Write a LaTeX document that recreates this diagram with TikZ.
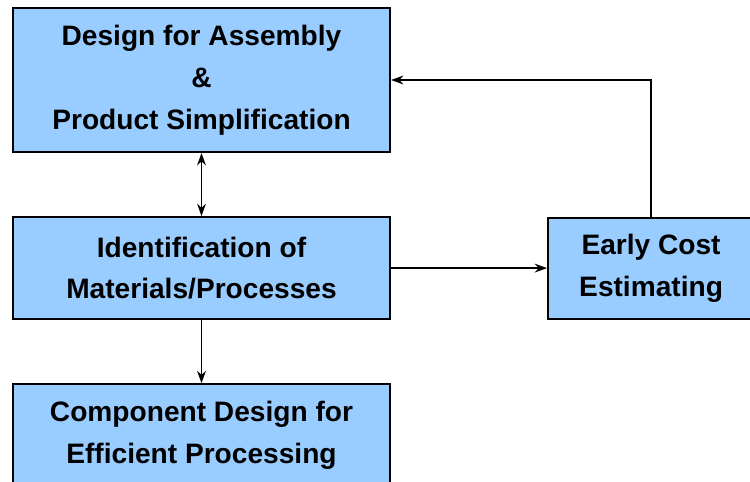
\documentclass[tikz,border=0pt]{standalone}
\usepackage{fontspec}
\setmainfont{Liberation Sans}
\usepackage{tikz}
\usetikzlibrary{positioning,arrows.meta}
\definecolor{boxblue}{HTML}{99CCFF}
\tikzstyle{stage} = [rectangle, draw=black, line width=1.2pt, fill=boxblue, minimum width=7.54cm, minimum height=2.04cm, align=center, font=\fontsize{16}{23.8}\selectfont\bfseries, inner sep=0pt]
\tikzstyle{arrow} = [line width=0.9pt,->,>={Stealth[length=7pt,width=5pt]}]

\begin{document}
\begin{tikzpicture}[]
\useasboundingbox (0,0) rectangle (15,-9.64);

\node (dfa) [stage, minimum height=2.88cm] at (4.03,-1.60) {Design for Assembly\\\&\\Product Simplification};
\node (idm) [stage, below=1.26cm of dfa] {Identification of\\Materials/Processes};
\node (cde) [stage, below=1.26cm of idm] {Component Design for\\Efficient Processing};
\node (ece) [stage, right=3.12cm of idm, minimum width=4.12cm, minimum height=2.02cm] {Early Cost\\Estimating};

\draw [arrow,<->] (dfa) -- (idm);
\draw [arrow] (idm) -- (cde);
\draw [arrow] (idm) -- (ece);
\draw [arrow] (ece.north) |- (dfa.east);

\end{tikzpicture}
\end{document}
